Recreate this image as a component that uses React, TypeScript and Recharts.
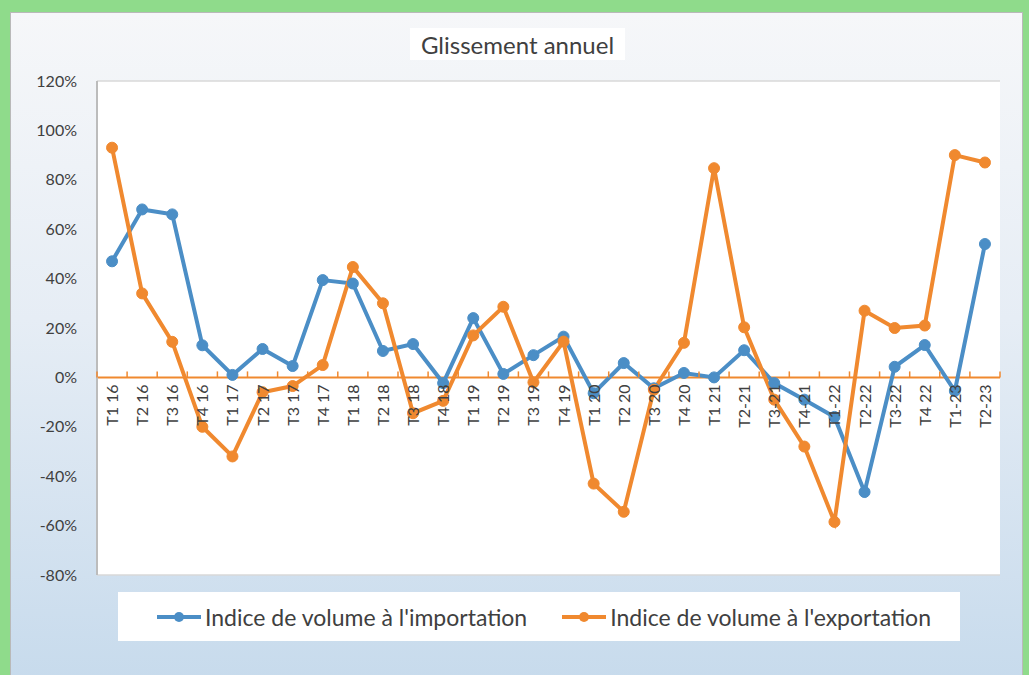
import React from 'react'
import { LineChart, Line, XAxis, YAxis, CartesianGrid, ReferenceLine } from 'recharts'

const quarters = [
  'T1 16', 'T2 16', 'T3 16', 'T4 16',
  'T1 17', 'T2 17', 'T3 17', 'T4 17',
  'T1 18', 'T2 18', 'T3 18', 'T4 18',
  'T1 19', 'T2 19', 'T3 19', 'T4 19',
  'T1 20', 'T2 20', 'T3 20', 'T4 20',
  'T1 21', 'T2-21', 'T3-21', 'T4-21',
  'T1-22', 'T2-22', 'T3-22', 'T4 22',
  'T1-23', 'T2-23',
]

// glissement annuel, en %
const importVolume = [
  47, 68, 66, 13, 1, 11.5, 4.6, 39.4, 38, 10.7, 13.5, -2.3, 24, 1.4, 9, 16.5,
  -6.4, 5.8, -4.4, 1.8, 0, 11, -2.3, -9, -16, -46.4, 4.3, 13.1, -5.5, 54,
]
const exportVolume = [
  93, 34, 14.4, -20, -32, -6, -3.5, 5, 44.7, 30, -14.5, -9.5, 17, 28.6, -2, 14.5,
  -43, -54.4, -5, 14, 84.7, 20.3, -9, -28, -58.5, 27, 20, 21, 90, 87,
]

const yTicks = [-80, -60, -40, -20, 0, 20, 40, 60, 80, 100, 120]

const data = quarters.map((q, i) => ({ q, imp: importVolume[i], exp: exportVolume[i] }))

const BLUE = '#4b8ec6'
const ORANGE = '#f0892f'
const TEXT = '#404040'
const FONT = 'Lato, "Open Sans", sans-serif'

const W = 1029
const H = 675
const PLOT_TOP = 81
const PLOT_BOTTOM = 575
const PLOT_LEFT = 97
const PLOT_RIGHT = 1000
const Y_MIN = yTicks[0]
const Y_MAX = yTicks[yTicks.length - 1]
const zeroY = PLOT_TOP + ((Y_MAX - 0) / (Y_MAX - Y_MIN)) * (PLOT_BOTTOM - PLOT_TOP)
const step = (PLOT_RIGHT - PLOT_LEFT) / quarters.length

function QuarterTick(props: any) {
  const { x, payload, index } = props
  return (
    <g>
      <line x1={x - step / 2} x2={x - step / 2} y1={zeroY} y2={zeroY - 6} stroke={ORANGE} strokeWidth={1.5} />
      {index === quarters.length - 1 && (
        <line x1={x + step / 2} x2={x + step / 2} y1={zeroY} y2={zeroY - 6} stroke={ORANGE} strokeWidth={1.5} />
      )}
      <text
        x={0}
        y={0}
        transform={`translate(${x + 6}, ${zeroY + 7}) rotate(-90)`}
        textAnchor="end"
        fontSize={16}
        fontFamily={FONT}
        fill={TEXT}
      >
        {payload.value}
      </text>
    </g>
  )
}

function LegendItem({ color, label }: { color: string; label: string }) {
  return (
    <div style={{ display: 'flex', alignItems: 'center', flexShrink: 0, whiteSpace: 'nowrap' }}>
      <svg width={46} height={12}>
        <line x1={1} x2={45} y1={6} y2={6} stroke={color} strokeWidth={4} />
        <circle cx={23} cy={6} r={5} fill={color} />
      </svg>
      <span style={{ marginLeft: 3 }}>{label}</span>
    </div>
  )
}

export default function App() {
  return (
    <div style={{ position: 'absolute', left: 0, top: 0, width: W, height: H, background: '#8fdb8b', overflow: 'hidden' }}>
      <div
        style={{
          position: 'absolute',
          left: 10,
          top: 12,
          width: 1011,
          height: 680,
          border: '1px solid #b9b9b9',
          background: 'linear-gradient(to bottom, #f6f7f9 0%, #e6edf5 45%, #c6daec 100%)',
        }}
      />
      <div
        style={{
          position: 'absolute',
          left: 410,
          top: 28,
          width: 215,
          height: 32,
          background: '#fff',
          display: 'flex',
          alignItems: 'center',
          justifyContent: 'center',
          fontFamily: FONT,
          fontSize: 24,
          color: TEXT,
        }}
      >
        Glissement annuel
      </div>
      <div style={{ position: 'absolute', left: 0, top: 0 }}>
        <LineChart
          width={W}
          height={H}
          data={data}
          margin={{ top: PLOT_TOP, right: W - PLOT_RIGHT, bottom: H - PLOT_BOTTOM - 1, left: PLOT_LEFT - 60 }}
        >
          <CartesianGrid vertical={false} stroke="#d9d9d9" strokeWidth={1.5} fill="#ffffff" />
          <XAxis
            dataKey="q"
            height={1}
            axisLine={false}
            tickLine={false}
            interval={0}
            padding={{ left: step / 2, right: step / 2 }}
            tick={<QuarterTick />}
          />
          <YAxis
            yAxisId="left"
            domain={[Y_MIN, Y_MAX]}
            ticks={yTicks}
            width={60}
            axisLine={{ stroke: '#bcbcbc', strokeWidth: 2 }}
            tickLine={false}
            tickMargin={14}
            tickFormatter={(v: number) => `${v}%`}
            tick={{ fontSize: 16, fontFamily: FONT, fill: TEXT }}
          />
          <YAxis
            yAxisId="right"
            orientation="right"
            domain={[Y_MIN, Y_MAX]}
            width={0}
            tick={false}
            axisLine={{ stroke: '#bcbcbc', strokeWidth: 2 }}
          />
          <ReferenceLine yAxisId="left" y={0} stroke={ORANGE} strokeWidth={2} />
          <Line
            yAxisId="left"
            dataKey="imp"
            stroke={BLUE}
            strokeWidth={4}
            dot={{ r: 5.5, fill: BLUE, stroke: BLUE, strokeWidth: 1 }}
            isAnimationActive={false}
          />
          <Line
            yAxisId="left"
            dataKey="exp"
            stroke={ORANGE}
            strokeWidth={4}
            dot={{ r: 5.5, fill: ORANGE, stroke: ORANGE, strokeWidth: 1 }}
            isAnimationActive={false}
          />
        </LineChart>
      </div>
      <div
        style={{
          position: 'absolute',
          left: 118,
          top: 592,
          width: 842,
          height: 49,
          background: '#fff',
          display: 'flex',
          alignItems: 'center',
          justifyContent: 'flex-start',
          paddingLeft: 38,
          boxSizing: 'border-box',
          gap: 34,
          fontFamily: FONT,
          fontSize: 23,
          color: TEXT,
        }}
      >
        <LegendItem color={BLUE} label="Indice de volume à l'importation" />
        <LegendItem color={ORANGE} label="Indice de volume à l'exportation" />
      </div>
    </div>
  )
}
